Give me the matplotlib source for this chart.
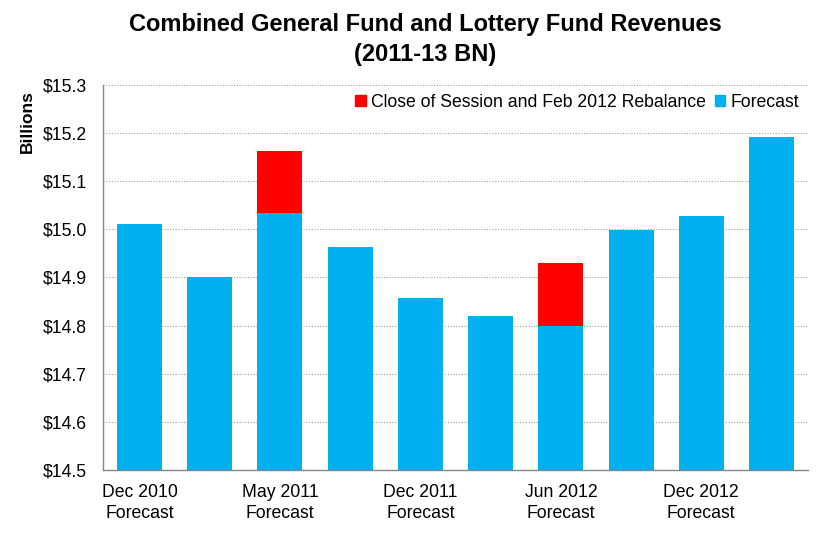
import matplotlib
matplotlib.use("Agg")
import matplotlib.pyplot as plt
from matplotlib.patches import Patch

plt.rcParams['font.family'] = ['Liberation Sans', 'DejaVu Sans']

# forecasts, one bar each; only every other one is labelled
labels = ["Dec 2010\nForecast", "", "May 2011\nForecast", "", "Dec 2011\nForecast", "",
          "Jun 2012\nForecast", "", "Dec 2012\nForecast", ""]
forecast = [15.011, 14.901, 15.033, 14.963, 14.857, 14.820, 14.799, 14.999, 15.027, 15.191]
# added on top for close of session / rebalance
rebalance = [0, 0, 0.130, 0, 0, 0, 0.131, 0, 0, 0]

yticks = [14.5, 14.6, 14.7, 14.8, 14.9, 15.0, 15.1, 15.2, 15.3]

blue = "#00B0F0"
red = "#FF0000"
fs = 12.7

fig = plt.figure(figsize=(8.2, 5.43), dpi=100)
ax = fig.add_axes([103 / 820, 1 - 470 / 543, 705 / 820, 385 / 543])

x = list(range(len(forecast)))
base = 14.5
ax.bar(x, [v - base for v in forecast], bottom=base, width=0.64, color=blue, zorder=2)
ax.bar(x, rebalance, bottom=forecast, width=0.64, color=red, zorder=2)

ax.set_xlim(-0.52, len(x) - 0.48)
ax.set_ylim(14.5, 15.3)
ax.set_yticks(yticks)
ax.set_yticklabels([f"${v:.1f}" for v in yticks], fontsize=fs)
ax.set_xticks(x)
ax.set_xticklabels(labels, fontsize=fs, linespacing=1.3)
ax.tick_params(axis="y", length=0, pad=11.5)
ax.tick_params(axis="x", length=0, pad=10)
ax.yaxis.grid(True, linestyle=(0, (1, 1.5)), color="#A0A0A0", linewidth=0.8, zorder=0)

for s in ["top", "right"]:
    ax.spines[s].set_visible(False)
for s in ["left", "bottom"]:
    ax.spines[s].set_color("#888888")
    ax.spines[s].set_linewidth(1)

fig.text(27 / 820, 1 - 122 / 543, "Billions", rotation=90, ha="center", va="center",
         fontsize=12.5, fontweight="bold")

fig.text(425 / 820, 1 - 24 / 543, "Combined General Fund and Lottery Fund Revenues",
         ha="center", va="center", fontsize=17, fontweight="bold")
fig.text(425 / 820, 1 - 54 / 543, "(2011-13 BN)",
         ha="center", va="center", fontsize=17, fontweight="bold")

handles = [Patch(color=red, label="Close of Session and Feb 2012 Rebalance"),
           Patch(color=blue, label="Forecast")]
ax.legend(handles=handles, loc="upper right", ncol=2, frameon=False, fontsize=fs,
          handlelength=0.6, handleheight=0.6, handletextpad=0.3, columnspacing=0.5,
          bbox_to_anchor=(1.0, 1.0), borderaxespad=0.1)

fig.savefig("out.png", dpi=100)
